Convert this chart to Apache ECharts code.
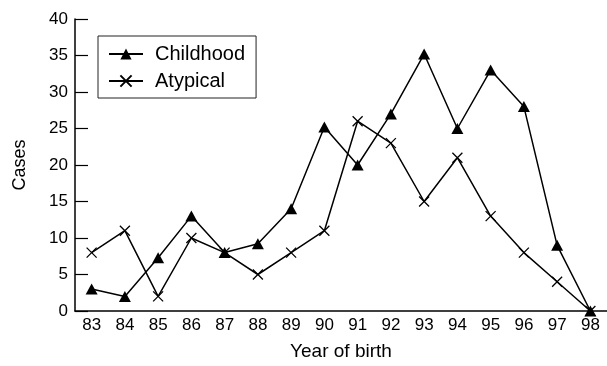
<!DOCTYPE html>
<html>
<head>
<meta charset="utf-8">
<script src="https://cdn.jsdelivr.net/npm/echarts@6/dist/echarts.min.js"></script>
<style>
html,body{margin:0;padding:0;background:#fff;}
#chart{width:607px;height:366px;}
</style>
</head>
<body>
<div id="chart"></div>
<script>
var years = ['83','84','85','86','87','88','89','90','91','92','93','94','95','96','97','98'];
var childhood = [3, 2, 7.3, 13, 8, 9.2, 14, 25.2, 20, 27, 35.2, 25, 33, 28, 9, 0];
var atypical = [8, 11, 2, 10, 8, 5, 8, 11, 26, 23, 15, 21, 13, 8, 4, 0];
var yTicks = [0, 5, 10, 15, 20, 25, 30, 35, 40];

var FONT = 'Liberation Sans';
var chart = echarts.init(document.getElementById('chart'));
chart.setOption({
  animation: false,
  backgroundColor: '#fff',
  textStyle: { fontFamily: FONT, color: '#000' },
  grid: { left: 75, right: -1, top: 19, bottom: 52, containLabel: false },
  legend: {
    orient: 'vertical',
    left: 98, top: 36,
    padding: [8, 11, 7, 10],
    itemGap: 7,
    itemWidth: 34,
    itemHeight: 14,
    borderColor: '#222',
    borderWidth: 1,
    textStyle: { fontFamily: FONT, fontSize: 20, color: '#000', padding: [0, 0, 0, 7] },
    data: ['Childhood', 'Atypical']
  },
  xAxis: {
    type: 'category',
    data: years,
    boundaryGap: true,
    name: 'Year of birth',
    nameLocation: 'middle',
    nameGap: 31,
    nameTextStyle: { fontFamily: FONT, fontSize: 19, color: '#000' },
    axisLine: { lineStyle: { color: '#000', width: 1.5 } },
    axisTick: { inside: true, length: 13, lineStyle: { color: '#000', width: 1.2 } },
    axisLabel: { margin: 6, fontFamily: FONT, fontSize: 17, color: '#000' },
    splitLine: { show: false }
  },
  yAxis: {
    type: 'value',
    min: 0, max: 40, interval: 5,
    name: 'Cases',
    nameLocation: 'middle',
    nameRotate: 90,
    nameGap: 46,
    nameTextStyle: { fontFamily: FONT, fontSize: 18, color: '#000' },
    axisLine: { show: true, lineStyle: { color: '#000', width: 1.5 } },
    axisTick: { show: true, inside: true, length: 13, lineStyle: { color: '#000', width: 1.2 } },
    axisLabel: {
      margin: 7, fontFamily: FONT, fontSize: 17, color: '#000',
      formatter: function (v) { return yTicks.indexOf(v) >= 0 ? String(v) : ''; }
    },
    splitLine: { show: false }
  },
  series: [
    {
      name: 'Childhood',
      type: 'line',
      data: childhood,
      symbol: 'triangle',
      symbolSize: [12, 11],
      showAllSymbol: true,
      itemStyle: { color: '#000' },
      lineStyle: { color: '#000', width: 1.5 },
      z: 3
    },
    {
      name: 'Atypical',
      type: 'line',
      data: atypical,
      symbol: 'path://M0,0L10,10M10,0L0,10',
      symbolSize: 10,
      showAllSymbol: true,
      itemStyle: { color: 'none', borderColor: '#000', borderWidth: 1.3 },
      lineStyle: { color: '#000', width: 1.5 },
      z: 2
    }
  ]
});
</script>
</body>
</html>
